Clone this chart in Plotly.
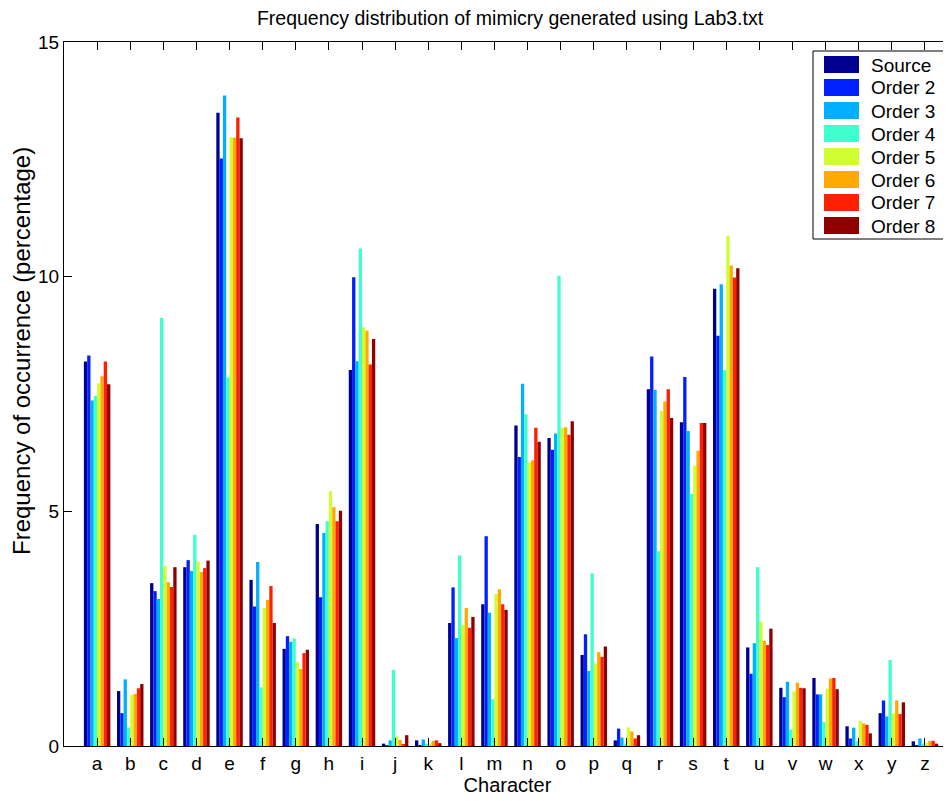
import plotly.graph_objects as go

characters = list("abcdefghijklmnopqrstuvwxyz")
series_names = ["Source", "Order 2", "Order 3", "Order 4", "Order 5", "Order 6", "Order 7", "Order 8"]

source = [8.19, 1.17, 3.47, 3.81, 13.49, 3.54, 2.07, 4.73, 8.01, 0.05, 0.12, 2.62, 3.02,
          6.83, 6.56, 1.94, 0.12, 7.60, 6.90, 9.74, 2.10, 1.24, 1.45, 0.42, 0.70, 0.10]
order2 = [8.32, 0.70, 3.30, 3.96, 12.52, 2.97, 2.34, 3.17, 9.99, 0.02, 0.02, 3.38, 4.47,
          6.16, 6.31, 2.38, 0.37, 8.30, 7.86, 8.74, 1.54, 1.04, 1.10, 0.16, 0.97, 0.02]
order3 = [7.36, 1.42, 3.13, 3.73, 13.86, 3.92, 2.22, 4.54, 8.20, 0.12, 0.14, 2.30, 2.84,
          7.72, 6.66, 1.60, 0.18, 7.59, 6.71, 9.84, 2.19, 1.37, 1.10, 0.39, 0.63, 0.16]
order4 = [7.46, 0.39, 9.12, 4.50, 7.85, 1.25, 2.29, 4.79, 10.60, 1.62, 0.05, 4.06, 1.00,
          7.07, 10.02, 3.68, 0.05, 4.15, 5.37, 8.01, 3.81, 0.35, 0.51, 0.10, 1.83, 0.05]
order5 = [7.73, 1.09, 3.84, 3.93, 12.97, 2.94, 1.79, 5.43, 8.92, 0.20, 0.06, 2.58, 3.24,
          6.04, 6.78, 1.75, 0.40, 7.14, 5.97, 10.87, 2.65, 1.16, 1.22, 0.53, 0.70, 0.07]
order6 = [7.88, 1.11, 3.49, 3.71, 12.96, 3.11, 1.64, 5.09, 8.85, 0.13, 0.11, 2.94, 3.34,
          6.09, 6.79, 2.00, 0.31, 7.34, 6.29, 10.24, 2.24, 1.35, 1.44, 0.48, 0.97, 0.11]
order7 = [8.19, 1.23, 3.39, 3.79, 13.39, 3.41, 1.98, 4.79, 8.13, 0.04, 0.12, 2.52, 3.02,
          6.78, 6.63, 1.90, 0.16, 7.60, 6.88, 9.98, 2.15, 1.24, 1.45, 0.45, 0.68, 0.11]
order8 = [7.71, 1.32, 3.81, 3.95, 12.95, 2.62, 2.05, 5.01, 8.67, 0.23, 0.06, 2.75, 2.90,
          6.48, 6.92, 2.12, 0.23, 6.99, 6.88, 10.18, 2.50, 1.23, 1.21, 0.27, 0.93, 0.05]

all_series = [source, order2, order3, order4, order5, order6, order7, order8]
colors = ["#00008F", "#0020FF", "#00AFFF", "#40FFCF", "#CFFF30", "#FFAA00", "#FF2000", "#8F0000"]

y_ticks = [0, 5, 10, 15]

FONT = "Liberation Sans, Arial, Helvetica, sans-serif"
x_pos = list(range(1, len(characters) + 1))

# figure geometry (page has an 8px body margin)
W, H = 943, 793
ML, MR, MT, MB = 56, 0, 34, 55
PW, PH = W - ML - MR, H - MT - MB   # plot area 887 x 704


def px_to_paper_x(px):   # page pixel -> paper fraction
    return (px - 8 - ML) / PW


def px_to_paper_y(py):
    return (H - MB + 8 - py) / PH


fig = go.Figure()
for name, vals, col in zip(series_names, all_series, colors):
    fig.add_trace(go.Bar(x=x_pos, y=vals, name=name, showlegend=False,
                         marker=dict(color=col, line=dict(width=0))))

shapes = []
annotations = []
# right-hand y ticks of the (off-page) right axis: only their tips are visible
for t in y_ticks[1:-1]:
    shapes.append(dict(type="line", xref="paper", yref="y",
                       x0=px_to_paper_x(947), x1=1.0, y0=t, y1=t,
                       line=dict(color="black", width=1)))
# legend box
shapes.append(dict(type="rect", xref="paper", yref="paper",
                   x0=px_to_paper_x(813), x1=px_to_paper_x(948),
                   y0=px_to_paper_y(239), y1=px_to_paper_y(51),
                   fillcolor="white", line=dict(color="black", width=1), layer="above"))
for i, (name, col) in enumerate(zip(series_names, colors)):
    top = 56 + 23 * i
    shapes.append(dict(type="rect", xref="paper", yref="paper",
                       x0=px_to_paper_x(824), x1=px_to_paper_x(859),
                       y0=px_to_paper_y(top + 17), y1=px_to_paper_y(top),
                       fillcolor=col, line=dict(width=0), layer="above"))
    annotations.append(dict(text=name, xref="paper", yref="paper",
                            x=px_to_paper_x(869), y=px_to_paper_y(top + 9),
                            xanchor="left", yanchor="middle", showarrow=False,
                            font=dict(family=FONT, size=19, color="black")))
# y-axis title (placed as in the reference, not centred on the axis)
annotations.append(dict(text="Frequency of occurrence (percentage)", xref="paper", yref="paper",
                        x=px_to_paper_x(21), y=px_to_paper_y(351), textangle=-90,
                        xanchor="center", yanchor="middle", showarrow=False,
                        font=dict(family=FONT, size=24, color="black")))

fig.update_layout(
    width=W, height=H,
    margin=dict(l=ML, r=MR, t=MT, b=MB),
    paper_bgcolor="white", plot_bgcolor="white",
    barmode="group", bargap=0.2, bargroupgap=0,
    font=dict(family=FONT, size=19, color="black"),
    showlegend=False,
    title=dict(text="Frequency distribution of mimicry generated using Lab3.txt",
               x=(510 - 8) / W, xanchor="center", y=1 - (18 - 8) / H, yanchor="middle",
               font=dict(family=FONT, size=19.5)),
    xaxis=dict(range=[0, (951 - 8 - ML) / ((958 - 64) / 27)], tickvals=x_pos, ticktext=characters,
               ticks="inside", ticklen=8, tickcolor="black", tickwidth=1,
               showline=True, linecolor="black", linewidth=1, mirror="ticks",
               showgrid=False, zeroline=False,
               title=dict(text="Character", standoff=2, font=dict(size=20)),
               tickfont=dict(size=19)),
    yaxis=dict(range=[0, 15], tickvals=y_ticks,
               ticks="inside", ticklen=8, tickcolor="black", tickwidth=1,
               showline=True, linecolor="black", linewidth=1, mirror=False,
               showgrid=False, zeroline=False,
               tickfont=dict(size=19)),
    shapes=shapes,
    annotations=annotations,
)

fig.write_html("out.html")
